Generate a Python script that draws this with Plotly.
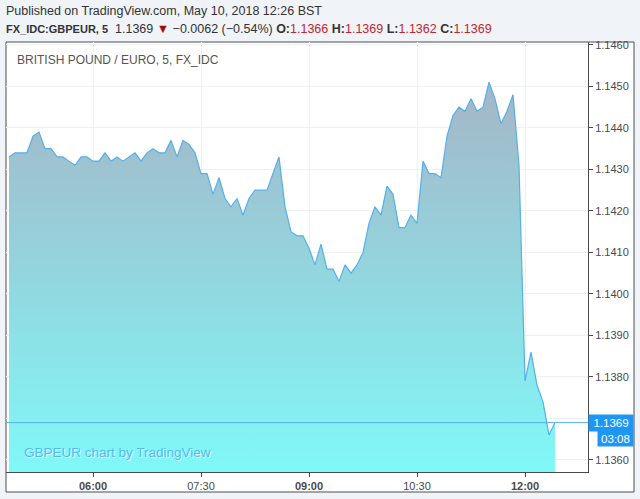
import pandas as pd
import plotly.graph_objects as go

# ---- data ----
START = "2018-05-10 04:50"
BAR_MIN = 5
prices = [
    1.1433, 1.1434, 1.1434, 1.1434, 1.1438, 1.1439, 1.1435, 1.1435, 1.1433, 1.1433,
    1.1432, 1.1431, 1.1433, 1.1433, 1.1432, 1.1432, 1.1434, 1.1432, 1.1433, 1.1432,
    1.1433, 1.1434, 1.1432, 1.1434, 1.1435, 1.1434, 1.1434, 1.1437, 1.1433, 1.1437,
    1.1436, 1.1434, 1.1429, 1.1429, 1.1424, 1.1428, 1.1423, 1.1421, 1.1423, 1.1419,
    1.1423, 1.1425, 1.1425, 1.1425, 1.1429, 1.1433, 1.1421, 1.1415, 1.1414, 1.1414,
    1.1411, 1.1407, 1.1412, 1.1406, 1.1406, 1.1403, 1.1407, 1.1405, 1.1407, 1.1410,
    1.1417, 1.1421, 1.1419, 1.1426, 1.1424, 1.1416, 1.1416, 1.1419, 1.1417, 1.1432,
    1.1429, 1.1429, 1.1428, 1.1438, 1.1443, 1.1445, 1.1444, 1.1447, 1.1444, 1.1445,
    1.1451, 1.1447, 1.1441, 1.1444, 1.1448, 1.1431, 1.1379, 1.1386, 1.1378, 1.1374,
    1.1366, 1.1369,
]
times = pd.date_range(START, periods=len(prices), freq=f"{BAR_MIN}min")

x_tick_vals = ["2018-05-10 06:00", "2018-05-10 07:30", "2018-05-10 09:00",
               "2018-05-10 10:30", "2018-05-10 12:00"]
x_tick_text = ["<b>06:00</b>", "07:30", "<b>09:00</b>", "10:30", "<b>12:00</b>"]
y_tick_vals = [1.1360, 1.1370, 1.1380, 1.1390, 1.1400, 1.1410, 1.1420,
               1.1430, 1.1440, 1.1450, 1.1460]
# 1.1370 label sits under the last-price badge in the reference
y_tick_text = ["1.1360", "", "1.1380", "1.1390", "1.1400", "1.1410", "1.1420",
               "1.1430", "1.1440", "1.1450", "1.1460"]
X_RANGE = ["2018-05-10 04:47:30", "2018-05-10 12:52:30"]
Y_MIN, Y_MAX = 1.13571, 1.14607

last = prices[-1]
header1 = "Published on TradingView.com, May 10, 2018 12:26 BST"
RED = "#c0272d"
header2 = (
    "<b><span style='font-size:11px'>FX_IDC:GBPEUR, 5</span></b>  1.1369 "
    "<span style='color:#9b1111'>▼</span> "
    "−0.0062 (−0.54%) "
    f"<b>O:</b><span style='color:{RED}'>1.1366</span> "
    f"<b>H:</b><span style='color:{RED}'>1.1369</span> "
    f"<b>L:</b><span style='color:{RED}'>1.1362</span> "
    f"<b>C:</b><span style='color:{RED}'>1.1369</span>"
)

FONT = "Liberation Sans, Arial, sans-serif"
LINE_BLUE = "#55b0ea"
LABEL_BLUE = "#1e96f5"

fig = go.Figure()
fig.add_trace(go.Scatter(x=times, y=[Y_MIN] * len(prices), mode="lines",
                         line=dict(width=0), hoverinfo="skip", showlegend=False))
fig.add_trace(go.Scatter(
    x=times, y=prices, mode="lines", fill="tonexty",
    line=dict(color=LINE_BLUE, width=1.2),
    fillgradient=dict(type="vertical", start=Y_MIN, stop=max(prices),
                      colorscale=[[0, "#80f8f8"], [1, "#a5b5c6"]]),
    hoverinfo="skip", showlegend=False,
))

fig.update_layout(
    width=640, height=499,
    margin=dict(l=6, r=52, t=42, b=27),
    paper_bgcolor="#f0f3f8",
    plot_bgcolor="white",
    font=dict(family=FONT, size=11, color="#4a4a4a"),
    showlegend=False,
    xaxis=dict(range=X_RANGE, tickvals=x_tick_vals, ticktext=x_tick_text,
               showgrid=True, gridcolor="#eef1f4", gridwidth=1,
               showline=True, linecolor="#4a4a4a", linewidth=1,
               ticks="outside", ticklen=4, tickcolor="#4a4a4a",
               tickfont=dict(size=11, color="#4a4a4a"), zeroline=False,
               fixedrange=True),
    yaxis=dict(range=[Y_MIN, Y_MAX], side="right", tickvals=y_tick_vals,
               ticktext=y_tick_text, showgrid=True, gridcolor="#eef1f4",
               showline=True, linecolor="#4a4a4a", linewidth=1,
               ticks="outside", ticklen=4, tickcolor="#4a4a4a",
               tickfont=dict(size=11, color="#4a4a4a"), zeroline=False,
               fixedrange=True),
)

# chart frame (white panel with dark border)
fig.add_shape(type="rect", xref="paper", yref="paper",
              x0=0, x1=(634 - 6) / 582, y0=(472 - 492) / 430, y1=1,
              fillcolor="white", line=dict(color="#4f4f4f", width=1), layer="below")

# last price line
fig.add_shape(type="line", xref="paper", yref="y", x0=0, x1=1, y0=last, y1=last,
              line=dict(color=LINE_BLUE, width=1))

# header texts
fig.add_annotation(xref="paper", yref="paper", x=-0.003, y=(472 - 11) / 430,
                   xanchor="left", yanchor="middle", showarrow=False,
                   text=header1, font=dict(family=FONT, size=12.5, color="#333333"))
fig.add_annotation(xref="paper", yref="paper", x=-0.003, y=(472 - 29) / 430,
                   xanchor="left", yanchor="middle", showarrow=False,
                   text=header2, font=dict(family=FONT, size=12.5, color="#333333"))
# chart title
fig.add_annotation(xref="paper", yref="paper", x=(15 - 6) / 582, y=(472 - 60) / 430,
                   xanchor="left", yanchor="middle", showarrow=False,
                   text="BRITISH POUND / EURO, 5, FX_IDC",
                   font=dict(family=FONT, size=12, color="#555555"))
# watermark
fig.add_annotation(xref="paper", yref="paper", x=(22 - 6) / 582, y=(472 - 452) / 430,
                   xanchor="left", yanchor="middle", showarrow=False,
                   text="GBPEUR chart by TradingView",
                   font=dict(family=FONT, size=13.5, color="#4fbaf5",
                             shadow="1px 1px 1px white"))
# price label & countdown
fig.add_annotation(xref="paper", yref="y", x=1, y=last, xanchor="left",
                   yanchor="middle", showarrow=False, text="1.1369",
                   bgcolor=LABEL_BLUE, width=42, height=14, borderpad=1,
                   font=dict(family=FONT, size=11.5, color="white"))
fig.add_annotation(xref="paper", yref="y", x=(634 - 6) / 582, y=last, xanchor="right",
                   yanchor="middle", yshift=-16, showarrow=False, text="03:08",
                   bgcolor=LABEL_BLUE, width=33, height=13, borderpad=1,
                   font=dict(family=FONT, size=11.5, color="white"))

fig.write_html("out.html", config={"displayModeBar": False},
               post_script="document.body.style.margin='0';")
